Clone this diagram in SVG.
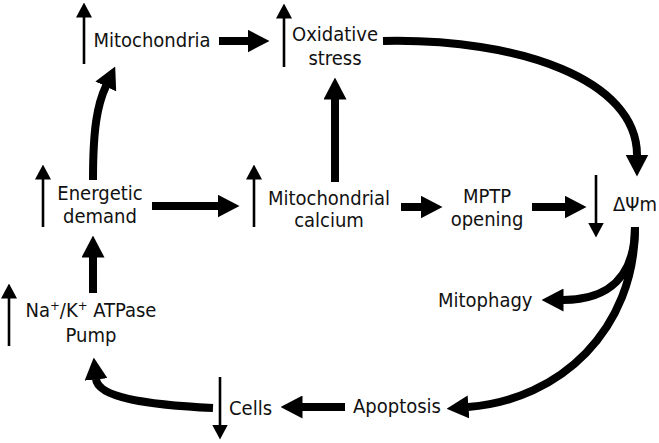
<svg xmlns="http://www.w3.org/2000/svg" width="659" height="443" viewBox="0 0 659 443">
<style>
text{font-family:"DejaVu Sans Condensed","DejaVu Sans",Verdana,sans-serif;font-size:20px;fill:#111}
.c{text-anchor:middle}
.thick{fill:none;stroke:#000;stroke-width:8;marker-end:url(#head)}
.thin{fill:none;stroke:#000;stroke-width:2.6;marker-end:url(#thinhead)}
</style>
<defs>
<marker id="head" markerUnits="userSpaceOnUse" viewBox="0 0 22 23" markerWidth="22" markerHeight="23" refX="0.5" refY="11.5" orient="auto"><path d="M0,0 L22,11.5 L0,23 z" fill="#000"/></marker>
<marker id="thinhead" markerUnits="userSpaceOnUse" viewBox="0 0 15 16" markerWidth="15" markerHeight="16" refX="0.5" refY="8" orient="auto"><path d="M0,0 L15,8 L0,16 z" fill="#000"/></marker>
</defs>
<rect width="659" height="443" fill="#fff"/>
<g id="mitochondria">
<path class="thin" d="M84,64 V17"/>
<text class="c" x="152" y="47">Mitochondria</text>
</g>
<g id="oxidative-stress">
<path class="thin" d="M284,67 V18"/>
<text class="c" x="335" y="41">Oxidative</text>
<text class="c" x="335" y="65">stress</text>
</g>
<g id="energetic-demand">
<path class="thin" d="M43,227 V179"/>
<text class="c" x="100" y="200">Energetic</text>
<text class="c" x="100" y="223">demand</text>
</g>
<g id="mitochondrial-calcium">
<path class="thin" d="M254,227 V179"/>
<text class="c" x="329" y="205">Mitochondrial</text>
<text class="c" x="329" y="227">calcium</text>
</g>
<g id="mptp-opening">
<text class="c" x="487" y="203">MPTP</text>
<text class="c" x="487" y="226">opening</text>
</g>
<g id="delta-psi-m">
<path class="thin" d="M596,175 V223"/>
<text x="613" y="211">ΔΨm</text>
</g>
<g id="mitophagy">
<text x="438" y="307">Mitophagy</text>
</g>
<g id="apoptosis">
<text x="353" y="413">Apoptosis</text>
</g>
<g id="cells">
<path class="thin" d="M220,377 V425"/>
<text x="229" y="415">Cells</text>
</g>
<g id="na-k-atpase-pump">
<path class="thin" d="M9,346 V298"/>
<text class="c" x="91" y="317">Na<tspan font-size="13" dy="-7">+</tspan><tspan dy="7">/K</tspan><tspan font-size="13" dy="-7">+</tspan><tspan dy="7"> ATPase</tspan></text>
<text class="c" x="91" y="342">Pump</text>
</g>
<g id="connectors">
<path class="thick" d="M219,41 H248"/>
<path class="thick" d="M152,206 H218"/>
<path class="thick" d="M401,207 H421"/>
<path class="thick" d="M532,207 H565"/>
<path class="thick" d="M93,293 V257"/>
<path class="thick" d="M335,182 V99"/>
<path class="thick" d="M345,407 H302"/>
<path class="thick" d="M383,41 C520,38 637,80 637,155"/>
<path class="thick" d="M93,180 C93,130 97,105 106,86"/>
<path class="thick" d="M213,408 C150,405 98,398 96,379"/>
<path class="thick" d="M635,227 C635,275 610,300 563,300"/>
<path class="thick" d="M635,227 C635,330 560,400 468,407"/>
</g>
</svg>
